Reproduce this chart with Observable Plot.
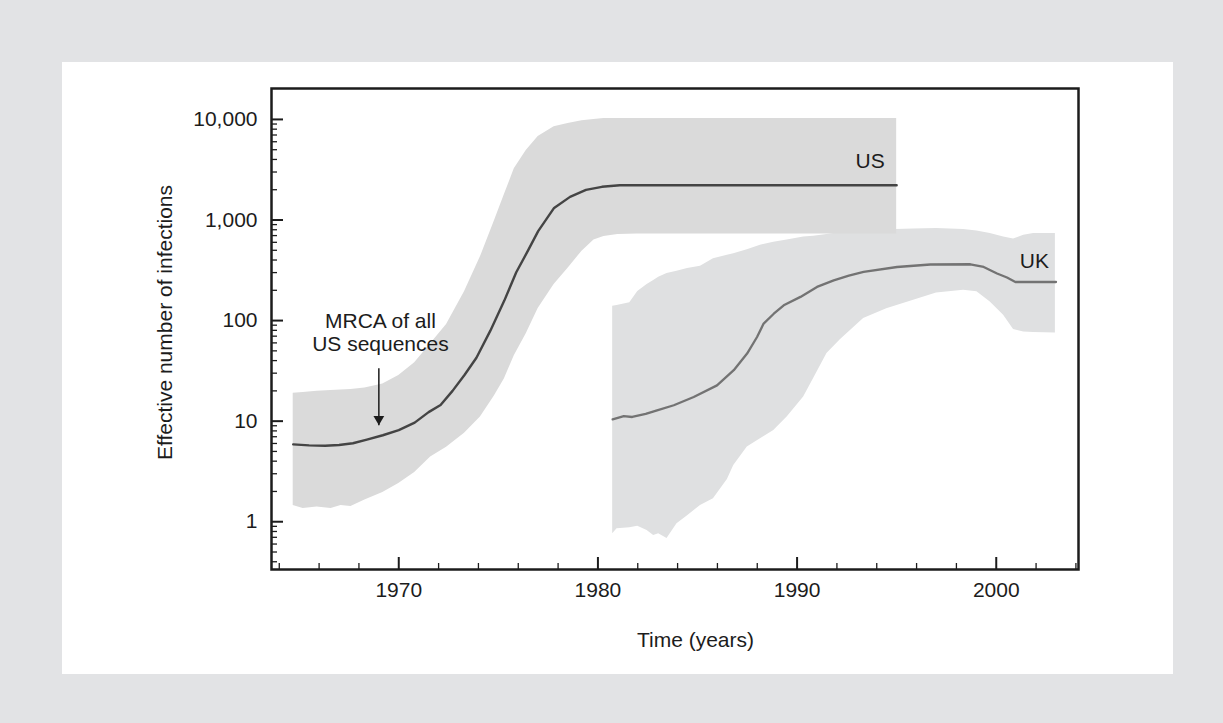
<!DOCTYPE html>
<html><head><meta charset="utf-8">
<script src="https://cdn.jsdelivr.net/npm/d3@7"></script>
<script src="https://cdn.jsdelivr.net/npm/@observablehq/plot@0.6"></script>
<style>
html,body{margin:0;padding:0;background:#e2e3e5;width:1223px;height:723px;overflow:hidden;}
#panel{position:absolute;left:62px;top:62px;width:1111px;height:612px;background:#fff;}
#panel svg{display:block}
</style></head><body><div id="panel"></div>
<script>
// ---- data ----
const usLineYears  = [1964.7,1965.5,1966.3,1967.0,1967.7,1968.4,1969.2,1970.0,1970.8,1971.5,1972.1,1972.7,1973.3,1973.9,1974.6,1975.3,1975.9,1976.5,1977.0,1977.8,1978.6,1979.4,1980.2,1981.1,1995.0];
const usLineValues = [5.87,5.75,5.70,5.79,6.03,6.55,7.24,8.13,9.66,12.3,14.5,20.0,28.8,42.7,79.4,158,302,501,776,1318,1698,1995,2138,2218,2218];

const usBandYears = [1964.7,1965.2,1965.9,1966.6,1967.1,1967.6,1968.3,1969.2,1970.0,1970.8,1971.6,1972.4,1973.3,1974.1,1974.8,1975.3,1975.8,1976.4,1977.0,1977.8,1978.5,1979.2,1979.8,1980.3,1981.0,1982.0,1995.0];
const usBandHigh  = [18.9,19.3,19.8,20.2,20.4,20.7,21.4,23.4,28.5,38.0,58.9,91.2,193,430,977,1778,3236,4898,6761,8433,9120,9727,10000,10230,10230,10230,10230];
const usBandLow   = [1.45,1.35,1.40,1.35,1.45,1.42,1.64,1.95,2.40,3.09,4.40,5.50,7.59,11.0,17.8,26.3,44.7,74.1,132,229,331,490,631,684,716,724,724];

const ukLineYears  = [1980.74,1981.3,1981.72,1982.4,1982.97,1983.81,1984.81,1985.98,1986.82,1987.49,1987.99,1988.32,1988.83,1989.33,1990.17,1991.0,1991.84,1992.6,1993.34,1995.02,1996.69,1998.7,1999.37,2000.04,2000.54,2000.96,2003.0];
const ukLineValues = [10.4,11.2,11.0,11.8,12.8,14.4,17.4,22.7,32.1,47.0,68.7,93.3,117,142,172,216,251,280,305,341,361,363,341,294,268,242,242];

const ukBandYears = [1980.74,1980.96,1981.6,1982.0,1982.47,1982.8,1983.05,1983.47,1983.97,1984.5,1985.15,1985.8,1986.5,1986.82,1987.5,1988.16,1988.83,1989.5,1990.33,1990.83,1991.5,1992.17,1993.34,1994.5,1995.85,1997.0,1998.36,1999.03,1999.7,2000.37,2000.87,2001.38,2001.88,2002.97];
const ukBandHigh  = [139,141,150,195,229,251,269,294,309,329,347,412,447,462,507,561,600,631,676,689,716,750,794,800,813,822,804,776,735,676,646,706,735,735];
const ukBandLow   = [0.76,0.85,0.87,0.90,0.82,0.73,0.76,0.68,0.955,1.15,1.45,1.69,2.63,3.63,5.52,6.70,8.09,11.0,17.4,26.5,47.0,64.6,105,131,159,188,200,193,153,113,81.3,77.1,75.9,75.3];

const xDomain = [1963.61, 2004.13];
const yDomain = [0.335, 20300];
const majorYears = [1970, 1980, 1990, 2000];
const minorYears = [1964,1966,1968,1972,1974,1976,1978,1982,1984,1986,1988,1992,1994,1996,1998,2002,2004];
const majorValues = [1, 10, 100, 1000, 10000];
const minorValues = [0.4,0.5,0.6,0.7,0.8,0.9,
  2,3,4,5,6,7,8,9, 20,30,40,50,60,70,80,90, 200,300,400,500,600,700,800,900, 2000,3000,4000,5000,6000,7000,8000,9000];

const seriesNames = ["US", "UK"];
const xLabel = "Time (years)";
const yLabel = "Effective number of infections";
const mrca = [{year: 1969, top: 33.5, tip: 9.1, label: "MRCA of all\nUS sequences"}];

// ---- tables ----
const usLine = usLineYears.map((year, i) => ({year, value: usLineValues[i]}));
const ukLine = ukLineYears.map((year, i) => ({year, value: ukLineValues[i]}));
const usBand = usBandYears.map((year, i) => ({year, low: usBandLow[i], high: usBandHigh[i]}));
const ukBand = ukBandYears.map((year, i) => ({year, low: ukBandLow[i], high: ukBandHigh[i]}));

// ---- layout ----
const W = 1111, H = 612, mL = 209, mR = 95, mT = 26, mB = 105;
const frameW = W - mL - mR, frameH = H - mT - mB;
const ink = "#1c1c1c";
const font = '"Liberation Sans", Arial, Helvetica, sans-serif';

const chart = Plot.plot({
  width: W, height: H,
  marginLeft: mL, marginRight: mR, marginTop: mT, marginBottom: mB,
  style: {fontFamily: font, fontSize: "21px", color: ink, background: "transparent", overflow: "visible"},
  x: {domain: xDomain, label: null},
  y: {type: "log", domain: yDomain, label: null},
  marks: [
    Plot.areaY(ukBand, {x: "year", y1: "low", y2: "high", fill: "#dfe0e1"}),
    Plot.areaY(usBand, {x: "year", y1: "low", y2: "high", fill: "#dadada"}),
    Plot.lineY(ukLine, {x: "year", y: "value", stroke: "#737373", strokeWidth: 2.3}),
    Plot.lineY(usLine, {x: "year", y: "value", stroke: "#444444", strokeWidth: 2.4}),
    Plot.tickX(majorYears, {x: d => d, insetTop: frameH - 12, stroke: ink, strokeWidth: 2}),
    Plot.tickX(minorYears, {x: d => d, insetTop: frameH - 6, stroke: ink, strokeWidth: 1.3}),
    Plot.tickY(majorValues, {y: d => d, insetRight: frameW - 12, stroke: ink, strokeWidth: 2}),
    Plot.tickY(minorValues, {y: d => d, insetRight: frameW - 6, stroke: ink, strokeWidth: 1.3}),
    Plot.axisX(majorYears, {tickSize: 0, tickPadding: 13, tickFormat: d => String(d), label: null, fill: ink}),
    Plot.axisY(majorValues, {tickSize: 0, tickPadding: 14, tickFormat: d3.format(","), label: null, fill: ink}),
    Plot.frame({stroke: ink, strokeWidth: 2.5}),
    Plot.text(usLine.slice(-1), {x: "year", y: "value", text: () => seriesNames[0], textAnchor: "end", dx: -12, dy: -24, fill: ink}),
    Plot.text(ukLine.slice(-1), {x: "year", y: "value", text: () => seriesNames[1], textAnchor: "end", dx: -7, dy: -21, fill: ink}),
    Plot.link(mrca, {x1: "year", x2: "year", y1: "top", y2: "tip", stroke: ink, strokeWidth: 1.5}),
    Plot.dot(mrca, {x: "year", y: "tip", symbol: "triangle", r: 4, rotate: 180, fill: ink, dy: -6.2}),
    Plot.text(mrca, {x: "year", y: "top", text: "label", lineHeight: 1.12, textAnchor: "middle", lineAnchor: "middle", dx: 1.6, dy: -36.5, fill: ink}),
    Plot.text([xLabel], {frameAnchor: "bottom", text: d => d, textAnchor: "middle", lineAnchor: "middle", dx: 20.5, dy: 71, fill: ink}),
    Plot.text([yLabel], {frameAnchor: "left", text: d => d, rotate: -90, textAnchor: "middle", lineAnchor: "middle", dx: -106, dy: -6.5, fill: ink})
  ]
});
document.getElementById("panel").appendChild(chart);
</script></body></html>
